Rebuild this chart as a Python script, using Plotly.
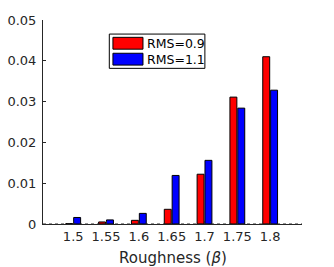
import plotly.graph_objects as go

categories = ["1.5", "1.55", "1.6", "1.65", "1.7", "1.75", "1.8"]
rms09 = [0.0001, 0.0005, 0.0009, 0.0036, 0.0122, 0.0311, 0.0410]
rms11 = [0.0016, 0.0010, 0.0026, 0.0119, 0.0156, 0.0284, 0.0328]
series_names = ["RMS=0.9", "RMS=1.1"]
colors = ["#ff0000", "#0000ff"]
pos = list(range(len(categories)))

TXT = "#262626"
FONT = "DejaVu Sans"

fig = go.Figure()
for name, vals, c in zip(series_names, [rms09, rms11], colors):
    fig.add_trace(go.Bar(x=pos, y=vals, name=name, marker=dict(color=c, line=dict(color="black", width=1)),
                         showlegend=False))

shapes = [
    dict(type="rect", xref="paper", yref="paper", x0=0.256, x1=0.625, y0=0.763, y1=0.931,
         line=dict(color="black", width=1), fillcolor="white", layer="above"),
    dict(type="rect", xref="paper", yref="paper", x0=0.270, x1=0.386, y0=0.857, y1=0.915,
         line=dict(color="black", width=1), fillcolor=colors[0], layer="above"),
    dict(type="rect", xref="paper", yref="paper", x0=0.270, x1=0.386, y0=0.779, y1=0.837,
         line=dict(color="black", width=1), fillcolor=colors[1], layer="above"),
    dict(type="line", xref="paper", yref="y", x0=0, x1=1, y0=0, y1=0,
         line=dict(color="#262626", width=1, dash="dot"), layer="above"),
]
annotations = [
    dict(xref="paper", yref="paper", x=0.392, y=0.886, text=series_names[0], showarrow=False,
         xanchor="left", yanchor="middle", font=dict(family=FONT, size=12.5, color="black")),
    dict(xref="paper", yref="paper", x=0.392, y=0.807, text=series_names[1], showarrow=False,
         xanchor="left", yanchor="middle", font=dict(family=FONT, size=12.5, color="black")),
    dict(xref="paper", yref="paper", x=0.5, y=-0.165, yanchor="middle", xanchor="center",
         text="Roughness (<i>β</i>)", showarrow=False, font=dict(family=FONT, size=15, color=TXT)),
]

fig.update_layout(
    width=334, height=267,
    margin=dict(l=43, r=32, t=20, b=43, autoexpand=False),
    paper_bgcolor="white", plot_bgcolor="white",
    barmode="group", bargap=0.52, bargroupgap=0.12,
    font=dict(family=FONT, size=13, color=TXT),
    shapes=shapes, annotations=annotations,
    xaxis=dict(range=[-0.92, 6.97], tickvals=pos, ticktext=categories, showgrid=False, zeroline=False,
               automargin=False,
               showline=True, linecolor=TXT, linewidth=1, ticks="inside", ticklen=3, tickcolor=TXT,
               tickfont=dict(size=13, color=TXT)),
    yaxis=dict(range=[0, 0.05], dtick=0.01, showgrid=False, zeroline=False,
               automargin=False,
               showline=True, linecolor=TXT, linewidth=1, ticks="inside", ticklen=3, tickcolor=TXT,
               tickfont=dict(size=13, color=TXT), ticklabelstandoff=3),
)

fig.write_html("out.html", config={"displayModeBar": False},
               post_script="document.body.style.margin='0';")
